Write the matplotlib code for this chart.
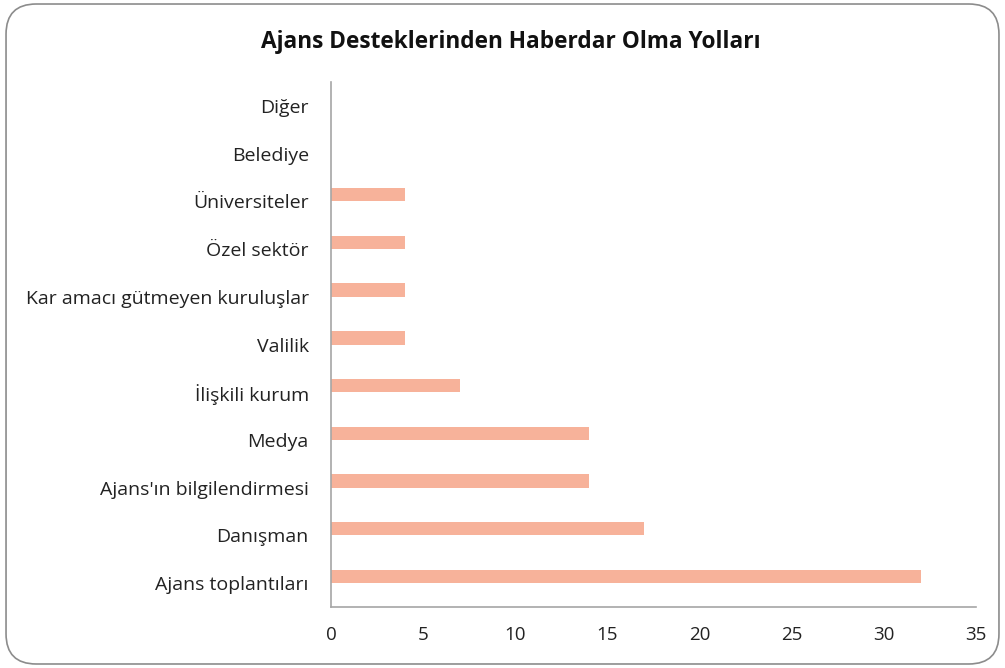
import matplotlib
matplotlib.use("Agg")
import matplotlib.pyplot as plt
from matplotlib.patches import FancyBboxPatch
import numpy as np

plt.rcParams['font.family'] = ['Open Sans', 'DejaVu Sans']

# Data (bottom to top)
categories = ['Ajans toplantıları', 'Danışman', "Ajans'ın bilgilendirmesi", 'Medya',
              'İlişkili kurum', 'Valilik', 'Kar amacı gütmeyen kuruluşlar',
              'Özel sektör', 'Üniversiteler', 'Belediye', 'Diğer']
values = [32, 17, 14, 14, 7, 4, 4, 4, 4, 0, 0]
xticks = [0, 5, 10, 15, 20, 25, 30, 35]

fig = plt.figure(figsize=(10.05, 6.68), dpi=100, facecolor='white')

# rounded frame
frame = FancyBboxPatch((0.006, 0.006), 0.988, 0.988, boxstyle="round,pad=0,rounding_size=0.03",
                       transform=fig.transFigure, fc='none', ec='#8c8c8c', lw=1.2,
                       mutation_aspect=1005/668)
fig.patches.append(frame)

ax = fig.add_axes([0.3294, 0.0913, 0.6417, 0.7859])
ax.set_facecolor('none')

y = np.arange(len(categories))
ax.barh(y + 0.14, values, height=0.28, color='#F7B29A')

ax.set_xlim(0, 35)
ax.set_ylim(-0.5, len(categories) - 0.5)
ax.set_xticks(xticks)
ax.set_xticklabels([str(t) for t in xticks], fontsize=13.5, color='#222222')
ax.set_yticks(y)
ax.set_yticklabels(categories, fontsize=14, color='#222222')
ax.tick_params(length=0)
ax.tick_params(axis='y', pad=16)
ax.tick_params(axis='x', pad=14)

for s in ['top', 'right']:
    ax.spines[s].set_visible(False)
for s in ['left', 'bottom']:
    ax.spines[s].set_color('#a6a6a6')
    ax.spines[s].set_linewidth(1.2)

fig.text(0.508, 0.937, 'Ajans Desteklerinden Haberdar Olma Yolları', ha='center', va='center',
         fontsize=16.3, fontweight='bold', color='#111111')

fig.savefig('out.png', dpi=100)
